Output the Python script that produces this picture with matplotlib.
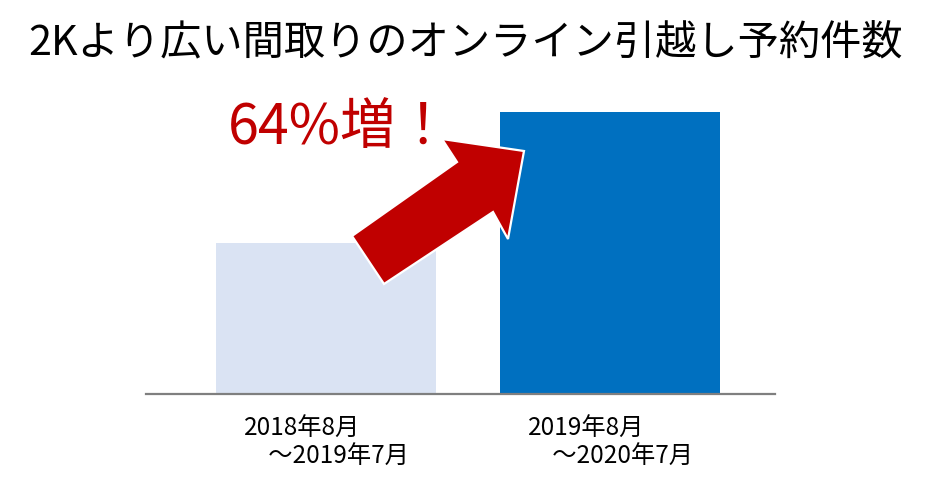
import matplotlib
matplotlib.use("Agg")
import matplotlib.pyplot as plt
from matplotlib.patches import Polygon

plt.rcParams['font.family'] = ['Noto Sans CJK JP', 'DejaVu Sans']

title = "2Kより広い間取りのオンライン引越し予約件数"
categories = ["2018年8月\n　～2019年7月", "2019年8月\n　～2020年7月"]
values = [100, 164]
bar_colors = ["#dae3f3", "#0070c0"]
annotation = "64%増！"

W, H = 940, 485
fig = plt.figure(figsize=(W / 100, H / 100), dpi=100)

def fx(px):
    return px / W

def fy(py):
    return 1 - py / H

ax = fig.add_axes([fx(146), fy(395), fx(775) - fx(146), fy(60) - fy(395)])
x = list(range(len(categories)))
ax.bar(x, values, width=0.775, color=bar_colors, zorder=2)
ax.set_xlim(-0.634, 1.581)
ax.set_ylim(26.2, 189.9)
ax.set_yticks([])
ax.set_xticks(x, categories)
ax.tick_params(axis='x', length=0, pad=15, labelsize=17.5)
for lbl in ax.get_xticklabels():
    lbl.set_multialignment('left')
    lbl.set_linespacing(1.1)
for s in ['top', 'left', 'right']:
    ax.spines[s].set_visible(False)
ax.spines['bottom'].set_color('#7f7f7f')
ax.spines['bottom'].set_linewidth(1.6)
ax.spines['bottom'].set_zorder(3)

# arrow annotation (figure pixel geometry)
arrow_px = [(384, 285), (352, 237), (457, 163), (442, 140), (524, 152),
            (508, 240), (493, 213)]
arrow = Polygon([(fx(a), fy(b)) for a, b in arrow_px], closed=True,
                transform=fig.transFigure, facecolor='#c00000',
                edgecolor='white', linewidth=1.6, joinstyle='miter', zorder=5)
fig.patches.append(arrow)

fig.text(fx(228), fy(144), annotation, color='#c00000', fontsize=40,
         ha='left', va='baseline')

fig.text(fx(466), fy(44), title, ha='center', va='center', fontsize=29.7,
         color='black')

fig.savefig("out.png", dpi=100)
